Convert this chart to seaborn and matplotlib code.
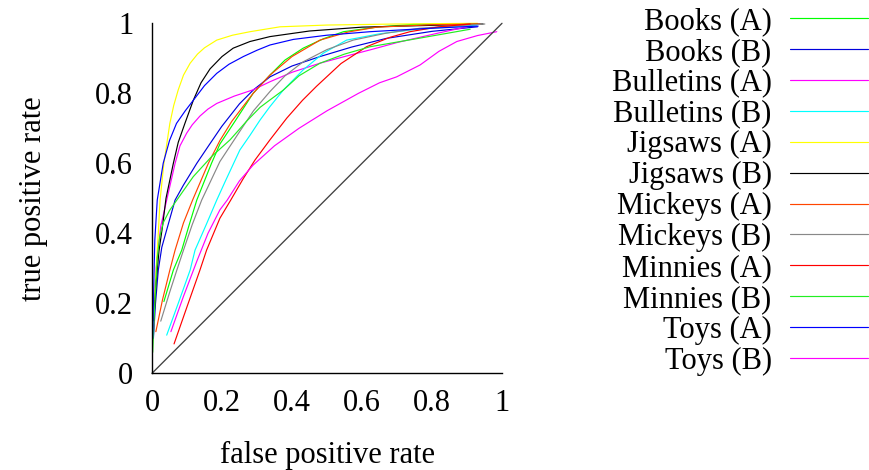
import matplotlib
matplotlib.use("Agg")
import matplotlib.pyplot as plt
import seaborn as sns
import pandas as pd

# ---- data ----
series_names = ["Books (A)", "Books (B)", "Bulletins (A)", "Bulletins (B)",
                "Jigsaws (A)", "Jigsaws (B)", "Mickeys (A)", "Mickeys (B)",
                "Minnies (A)", "Minnies (B)", "Toys (A)", "Toys (B)"]

books_a_fpr = [0.034, 0.061, 0.085, 0.105, 0.128, 0.17, 0.194, 0.237, 0.289, 0.337, 0.38, 0.432, 0.49, 0.547, 0.65, 0.747, 0.87]
books_a_tpr = [0.205, 0.295, 0.352, 0.42, 0.495, 0.60, 0.655, 0.72, 0.80, 0.852, 0.895, 0.929, 0.956, 0.976, 0.99, 0.997, 0.998]

books_b_fpr = [0.004, 0.01, 0.018, 0.028, 0.042, 0.066, 0.09, 0.128, 0.165, 0.199, 0.25, 0.29, 0.337, 0.4, 0.48, 0.57, 0.67, 0.8, 0.93]
books_b_tpr = [0.10, 0.20, 0.295, 0.36, 0.41, 0.495, 0.538, 0.60, 0.655, 0.705, 0.77, 0.81, 0.847, 0.878, 0.905, 0.932, 0.957, 0.977, 0.99]

bulletins_a_fpr = [0.003, 0.012, 0.025, 0.042, 0.066, 0.08, 0.099, 0.115, 0.137, 0.16, 0.185, 0.235, 0.289, 0.337, 0.4, 0.48, 0.55, 0.623, 0.7, 0.813, 0.90]
bulletins_a_tpr = [0.10, 0.30, 0.42, 0.495, 0.60, 0.65, 0.686, 0.71, 0.735, 0.755, 0.771, 0.792, 0.81, 0.833, 0.86, 0.886, 0.905, 0.924, 0.945, 0.971, 0.99]

bulletins_b_fpr = [0.042, 0.075, 0.109, 0.123, 0.155, 0.185, 0.21, 0.251, 0.28, 0.309, 0.337, 0.375, 0.432, 0.49, 0.556, 0.65, 0.75, 0.928]
bulletins_b_tpr = [0.109, 0.20, 0.295, 0.352, 0.425, 0.495, 0.55, 0.638, 0.68, 0.724, 0.762, 0.809, 0.867, 0.915, 0.952, 0.97, 0.982, 0.995]

jigsaws_a_fpr = [0.003, 0.008, 0.012, 0.018, 0.023, 0.034, 0.051, 0.062, 0.075, 0.09, 0.109, 0.13, 0.15, 0.185, 0.23, 0.28, 0.366, 0.5, 0.7, 0.93]
jigsaws_a_tpr = [0.14, 0.24, 0.30, 0.40, 0.495, 0.60, 0.714, 0.765, 0.81, 0.852, 0.886, 0.912, 0.93, 0.952, 0.966, 0.976, 0.99, 0.995, 0.998, 1.0]

jigsaws_b_fpr = [0.005, 0.012, 0.02, 0.03, 0.04, 0.061, 0.075, 0.094, 0.118, 0.14, 0.166, 0.2, 0.232, 0.28, 0.337, 0.45, 0.6, 0.946]
jigsaws_b_tpr = [0.15, 0.26, 0.35, 0.42, 0.50, 0.60, 0.66, 0.714, 0.78, 0.83, 0.87, 0.905, 0.929, 0.948, 0.962, 0.978, 0.989, 0.998]

mickeys_a_fpr = [0.011, 0.03, 0.051, 0.066, 0.09, 0.116, 0.161, 0.194, 0.228, 0.289, 0.337, 0.4, 0.48, 0.56, 0.642, 0.8, 0.937]
mickeys_a_tpr = [0.119, 0.21, 0.295, 0.352, 0.43, 0.495, 0.60, 0.665, 0.72, 0.80, 0.852, 0.905, 0.952, 0.975, 0.989, 0.996, 0.998]

mickeys_b_fpr = [0.025, 0.05, 0.071, 0.09, 0.115, 0.142, 0.194, 0.25, 0.29, 0.337, 0.38, 0.432, 0.5, 0.575, 0.67, 0.766, 0.951]
mickeys_b_tpr = [0.149, 0.23, 0.295, 0.352, 0.425, 0.495, 0.605, 0.69, 0.75, 0.805, 0.85, 0.89, 0.925, 0.952, 0.972, 0.986, 0.998]

minnies_a_fpr = [0.063, 0.10, 0.137, 0.156, 0.194, 0.225, 0.26, 0.294, 0.337, 0.385, 0.43, 0.47, 0.54, 0.613, 0.68, 0.737, 0.82, 0.909]
minnies_a_tpr = [0.084, 0.19, 0.295, 0.352, 0.443, 0.495, 0.555, 0.609, 0.667, 0.729, 0.78, 0.82, 0.885, 0.933, 0.96, 0.976, 0.99, 0.998]

minnies_b_fpr = [0.002, 0.008, 0.015, 0.022, 0.032, 0.05, 0.071, 0.118, 0.171, 0.223, 0.27, 0.309, 0.337, 0.375, 0.42, 0.48, 0.55, 0.623, 0.75, 0.909]
minnies_b_tpr = [0.06, 0.20, 0.33, 0.39, 0.43, 0.465, 0.495, 0.562, 0.62, 0.667, 0.72, 0.76, 0.781, 0.809, 0.85, 0.886, 0.912, 0.933, 0.955, 0.983]

toys_a_fpr = [0.002, 0.005, 0.008, 0.015, 0.032, 0.05, 0.07, 0.095, 0.118, 0.15, 0.185, 0.22, 0.261, 0.3, 0.337, 0.404, 0.5, 0.623, 0.78, 0.932]
toys_a_tpr = [0.10, 0.25, 0.38, 0.495, 0.60, 0.665, 0.714, 0.75, 0.78, 0.822, 0.857, 0.883, 0.905, 0.923, 0.938, 0.954, 0.966, 0.976, 0.985, 0.992]

toys_b_fpr = [0.054, 0.09, 0.128, 0.16, 0.194, 0.215, 0.25, 0.289, 0.35, 0.42, 0.5, 0.59, 0.65, 0.699, 0.766, 0.82, 0.871, 0.93, 0.985]
toys_b_tpr = [0.119, 0.22, 0.32, 0.40, 0.467, 0.495, 0.55, 0.595, 0.65, 0.70, 0.75, 0.80, 0.83, 0.847, 0.881, 0.92, 0.948, 0.965, 0.976]

series_colors = ["#00ff00", "#0000dd", "#ff00ff", "#00ffff", "#ffff00", "#000000",
                 "#ff4500", "#888888", "#ff0000", "#22ee22", "#0000ff", "#ff00ff"]

diag_x = [0, 1]
diag_y = [0, 1]

tick_values = [0, 0.2, 0.4, 0.6, 0.8, 1]
tick_labels = ["0", "0.2", "0.4", "0.6", "0.8", "1"]

x_label = "false positive rate"
y_label = "true positive rate"

all_fpr = [books_a_fpr, books_b_fpr, bulletins_a_fpr, bulletins_b_fpr,
           jigsaws_a_fpr, jigsaws_b_fpr, mickeys_a_fpr, mickeys_b_fpr,
           minnies_a_fpr, minnies_b_fpr, toys_a_fpr, toys_b_fpr]
all_tpr = [books_a_tpr, books_b_tpr, bulletins_a_tpr, bulletins_b_tpr,
           jigsaws_a_tpr, jigsaws_b_tpr, mickeys_a_tpr, mickeys_b_tpr,
           minnies_a_tpr, minnies_b_tpr, toys_a_tpr, toys_b_tpr]

# ---- style ----
sns.set_theme(style="white")
plt.rcParams["font.family"] = ["Liberation Serif", "DejaVu Serif"]
plt.rcParams["text.color"] = "black"
plt.rcParams["axes.labelcolor"] = "black"
plt.rcParams["xtick.color"] = "black"
plt.rcParams["ytick.color"] = "black"
FS = 22

fig = plt.figure(figsize=(8.7, 4.7), dpi=100)
ax = fig.add_axes([152 / 870, 96.7 / 470, 350 / 870, 350 / 470])

for name, fx, ty, col in zip(series_names, all_fpr, all_tpr, series_colors):
    df = pd.DataFrame({"fpr": fx, "tpr": ty})
    sns.lineplot(data=df, x="fpr", y="tpr", color=col, linewidth=0.85,
                 label=name, sort=False, estimator=None, ax=ax, clip_on=False)

sns.lineplot(x=diag_x, y=diag_y, color="#404040", linewidth=0.95,
             sort=False, estimator=None, ax=ax, legend=False, clip_on=False)

ax.set_xlim(0, 1)
ax.set_ylim(0, 1)
ax.set_xticks(tick_values)
ax.set_xticklabels(tick_labels)
ax.set_yticks(tick_values)
ax.set_yticklabels(tick_labels)
ax.tick_params(axis="both", direction="in", length=6, width=1.0, color="black",
               labelsize=FS, labelcolor="black")
ax.tick_params(axis="y", pad=13.5)
ax.tick_params(axis="x", pad=11)

for side in ["top", "right"]:
    ax.spines[side].set_visible(False)
for side in ["left", "bottom"]:
    ax.spines[side].set_color("black")
    ax.spines[side].set_linewidth(1.0)

ax.set_xlabel(x_label, fontsize=FS, color="black", labelpad=17)
ax.set_ylabel(y_label, fontsize=FS, color="black", labelpad=34)
ax.grid(False)

handles, labels = ax.get_legend_handles_labels()
leg = ax.legend(handles, labels, loc="upper right",
                bbox_to_anchor=(868 / 870, 463 / 470), bbox_transform=fig.transFigure,
                frameon=False, markerfirst=False, fontsize=FS,
                handlelength=2.55, handletextpad=0.6, labelspacing=0.06,
                borderaxespad=0, borderpad=0)
for t in leg.get_texts():
    t.set_color("black")
for line in leg.get_lines():
    line.set_linewidth(0.85)

fig.savefig("out.png", dpi=100)
